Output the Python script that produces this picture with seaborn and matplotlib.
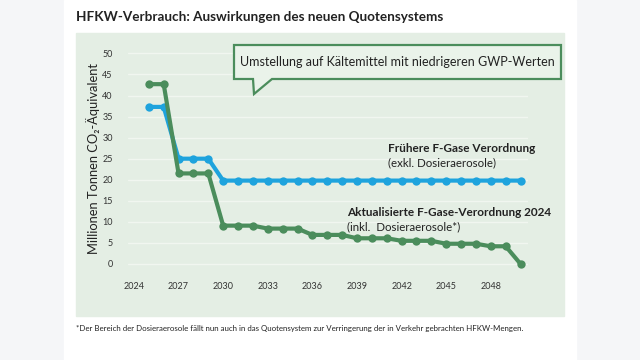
import numpy as np
import pandas as pd
import matplotlib
matplotlib.use("Agg")
import matplotlib.pyplot as plt
from matplotlib.patches import Rectangle, Polygon
import seaborn as sns

# Daten
years = list(range(2025, 2051))
alt_werte = [37.3, 37.3, 25.0, 25.0, 25.0] + [19.8] * 21
neu_werte = [42.7, 42.7, 21.5, 21.5, 21.5, 9.1, 9.1, 9.1, 8.4, 8.4, 8.4,
             6.9, 6.9, 6.9, 6.1, 6.1, 6.1, 5.5, 5.5, 5.5, 4.8, 4.8, 4.8,
             4.2, 4.2, 0.0]
x_ticks = [2024, 2027, 2030, 2033, 2036, 2039, 2042, 2045, 2048]
y_ticks = list(range(0, 55, 5))

title = "HFKW-Verbrauch: Auswirkungen des neuen Quotensystems"
y_label = "Millionen Tonnen CO₂-Äquivalent"
callout = "Umstellung auf Kältemittel mit niedrigeren GWP-Werten"
footnote = ("*Der Bereich der Dosieraerosole fällt nun auch in das Quotensystem "
            "zur Verringerung der in Verkehr gebrachten HFKW-Mengen.")

df = pd.DataFrame({
    "Jahr": years * 2,
    "Wert": alt_werte + neu_werte,
    "Serie": ["alt"] * len(years) + ["neu"] * len(years),
})

GREEN = "#4b8d5c"
BLUE = "#1ea3dd"
PANEL = "#e4eee4"

sns.set_style("white")
plt.rcParams["font.family"] = ["Lato", "DejaVu Sans"]

W, H = 640, 360
fig = plt.figure(figsize=(6.4, 3.6), dpi=100)
fig.patch.set_facecolor("#f5f6f8")


def fx(px):
    return px / W


def fy(py):
    return 1 - py / H


# Hintergrundflächen
fig.patches.append(Rectangle((fx(64), 0), fx(576) - fx(64), 1,
                             transform=fig.transFigure, color="white", zorder=0))
fig.patches.append(Rectangle((fx(76), fy(316)), fx(564) - fx(76), fy(33) - fy(316),
                             transform=fig.transFigure, color=PANEL, zorder=0.5))

ax = fig.add_axes([fx(128), fy(276.6), fx(528) - fx(128), fy(45) - fy(276.6)])
ax.set_zorder(2)
ax.set_facecolor("none")
ax.patch.set_alpha(0)
ax.set_xlim(2023.6, 2050.5)
ax.set_ylim(-3, 52)

for v in y_ticks:
    ax.axhline(v, color="#f1f6f0", lw=1.0, zorder=1)

sns.lineplot(data=df[df["Serie"] == "alt"], x="Jahr", y="Wert", ax=ax,
             color=BLUE, lw=3.0, marker="o", markersize=6,
             markeredgewidth=0, zorder=3)
sns.lineplot(data=df[df["Serie"] == "neu"], x="Jahr", y="Wert", ax=ax,
             color=GREEN, lw=3.0, marker="o", markersize=6,
             markeredgewidth=0, zorder=4)

ax.set_xticks(x_ticks)
ax.set_xticklabels([str(t) for t in x_ticks])
ax.set_yticks(y_ticks)
ax.tick_params(axis="both", length=0, labelsize=6.5, colors="#333333")
ax.tick_params(axis="x", pad=4)
ax.tick_params(axis="y", pad=11)
ax.set_xlabel("")
ax.set_ylabel("")
for s in ax.spines.values():
    s.set_visible(False)

# Texte
fig.text(fx(76), fy(17), title, fontsize=9.7, fontweight="bold",
         color="#222222", ha="left", va="center")
fig.text(fx(93), fy(158), y_label, fontsize=9.3, rotation=90,
         color="#222222", ha="center", va="center")

ax.text(2041.1, 27.5, "Frühere F-Gase Verordnung", fontsize=8.5,
        fontweight="bold", color="#222222", ha="left", va="center")
ax.text(2041.1, 24.0, "(exkl. Dosieraerosole)", fontsize=8.3,
        color="#222222", ha="left", va="center")
ax.text(2038.3, 12.3, "Aktualisierte F-Gase-Verordnung 2024", fontsize=8.5,
        fontweight="bold", color="#222222", ha="left", va="center")
ax.text(2038.3, 8.8, "(inkl.  Dosieraerosole*)", fontsize=8.3,
        color="#222222", ha="left", va="center")

# Sprechblase
pts = [(234, 45), (561, 45), (561, 79), (272, 79), (254, 94), (253, 79), (234, 79)]
fig.patches.append(Polygon([(fx(a), fy(b)) for a, b in pts], closed=True,
                           transform=fig.transFigure, facecolor="#eaf3ea",
                           edgecolor=GREEN, lw=1.6, zorder=5))
fig.texts.append(plt.Text(fx(397), fy(62), callout, fontsize=9, color="#222222",
                          ha="center", va="center", zorder=6,
                          transform=fig.transFigure, figure=fig))

fig.text(fx(76), fy(329), footnote, fontsize=5.7, color="#222222",
         ha="left", va="center")

fig.savefig("out.png", dpi=100, facecolor=fig.get_facecolor())
